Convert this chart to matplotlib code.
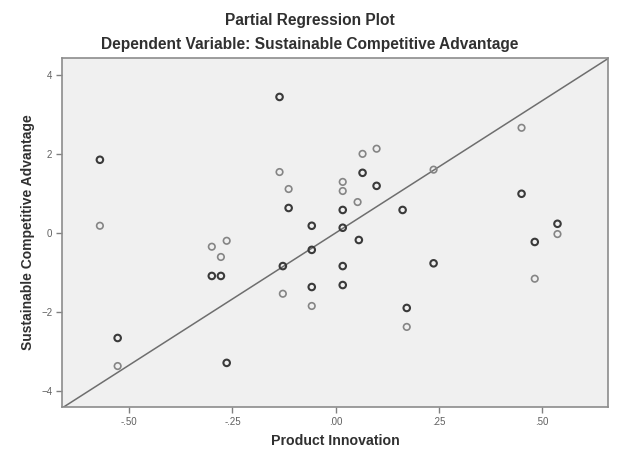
import numpy as np
import matplotlib.pyplot as plt

# residuals (x: Product Innovation, y: Sustainable Competitive Advantage)
dark_x = [-0.571, -0.136, -0.114, -0.058, 0.017, 0.017, 0.056, 0.065, 0.099, 0.162,
          0.450, 0.537, 0.482, 0.017, 0.017, 0.237, 0.172, -0.300, -0.278, -0.128,
          -0.058, -0.058, -0.528, -0.264]
dark_y = [1.85, 3.44, 0.63, 0.18, 0.58, 0.13, -0.18, 1.52, 1.19, 0.58,
          0.99, 0.23, -0.23, -0.84, -1.32, -0.77, -1.90, -1.09, -1.09, -0.84,
          -0.43, -1.37, -2.66, -3.29]
light_x = [-0.571, -0.136, -0.114, -0.264, 0.017, 0.017, 0.065, 0.099, 0.053, 0.237,
           0.450, 0.537, 0.482, 0.172, -0.300, -0.278, -0.128, -0.058, -0.528]
light_y = [0.18, 1.54, 1.11, -0.20, 1.29, 1.06, 2.00, 2.13, 0.78, 1.60,
           2.66, -0.03, -1.16, -2.38, -0.35, -0.61, -1.54, -1.85, -3.37]

slope = 6.69
x_range = (-0.663, 0.659)
y_range = (-4.41, 4.43)
x_ticks = [-0.50, -0.25, 0.0, 0.25, 0.50]
x_tick_labels = ['-.50', '-.25', '.00', '.25', '.50']
y_ticks = [-4, -2, 0, 2, 4]

plt.rcParams['font.family'] = ['Liberation Sans', 'DejaVu Sans']

fig = plt.figure(figsize=(6.19, 4.59), dpi=100)
ax = fig.add_axes([0.100, 0.113, 0.882, 0.761])
ax.set_facecolor('#f0f0f0')

ax.scatter(light_x, light_y, s=22, facecolors='none', edgecolors='#858585', linewidths=1.2, zorder=3)
ax.scatter(dark_x, dark_y, s=22, facecolors='none', edgecolors='#3a3a3a', linewidths=1.5, zorder=3)

lx = np.array(x_range)
ax.plot(lx, slope * lx, color='#6e6e6e', linewidth=1.1, zorder=2)

ax.set_xlim(*x_range)
ax.set_ylim(*y_range)
ax.set_xticks(x_ticks)
ax.set_xticklabels(x_tick_labels)
ax.set_yticks(y_ticks)
ax.tick_params(direction='out', length=4, width=1, color='#808080',
               labelsize=7, labelcolor='#606060', pad=3)
for sp in ax.spines.values():
    sp.set_color('#8c8c8c')
    sp.set_linewidth(1.2)

ax.set_xlabel('Product Innovation', fontsize=10.2, fontweight='bold', color='#303030', labelpad=5)
ax.set_ylabel('Sustainable Competitive Advantage', fontsize=10, fontweight='bold', color='#303030', labelpad=4)

fig.text(0.5, 0.956, 'Partial Regression Plot', ha='center', va='center',
         fontsize=11.2, fontweight='bold', color='#303030')
fig.text(0.5, 0.902, 'Dependent Variable: Sustainable Competitive Advantage', ha='center', va='center',
         fontsize=11.2, fontweight='bold', color='#303030')

fig.savefig('out.png', dpi=100)
